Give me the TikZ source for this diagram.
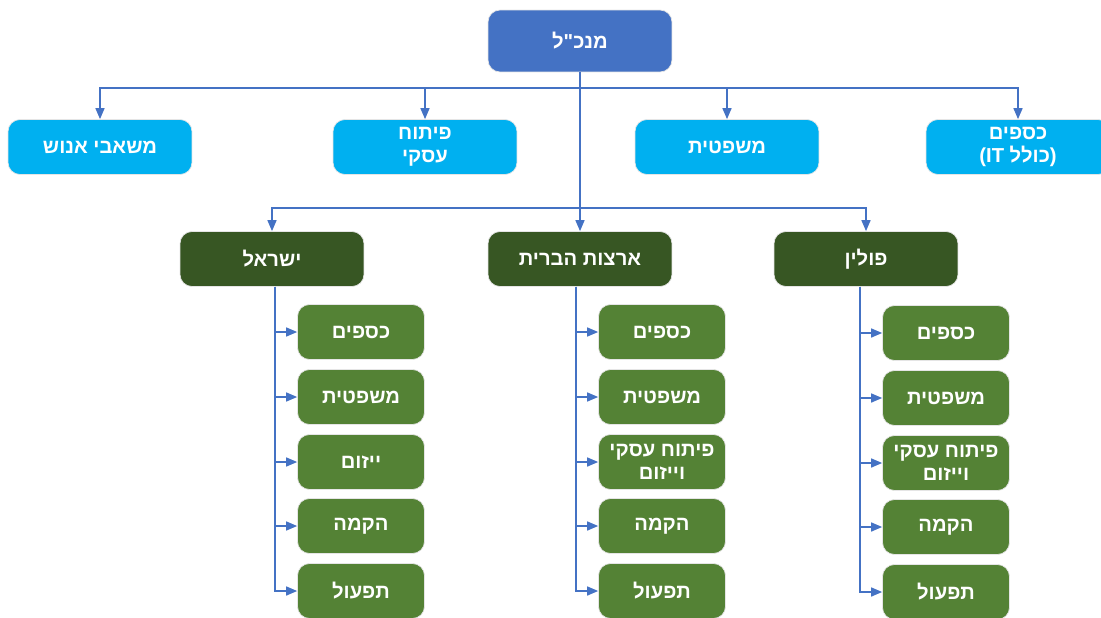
\documentclass[tikz,border=0pt]{standalone}
\usepackage{fontspec}
\usepackage{tikz}
\usetikzlibrary{arrows.meta}
\TeXXeTstate=1
\newfontfamily\hebfont[Script=Hebrew]{Liberation Sans}
\newcommand{\hebr}[1]{\beginR #1\endR}
\definecolor{ceoblue}{HTML}{4472C4}
\definecolor{deptblue}{HTML}{00B0F0}
\definecolor{sitegreen}{HTML}{375623}
\definecolor{unitgreen}{HTML}{548235}
\definecolor{linkblue}{HTML}{4472C4}
\tikzset{
	box/.style={shape=rectangle,rounded corners=0.24cm,draw=white!80!gray,line width=0.4pt,
		text=white,align=center,inner sep=0pt,
		font=\hebfont\bfseries\fontsize{11.5}{13}\selectfont},
	ceobox/.style={box,fill=ceoblue,minimum width=3.68cm,minimum height=1.24cm},
	deptbox/.style={box,fill=deptblue,minimum width=3.68cm,minimum height=1.1cm},
	sitebox/.style={box,fill=sitegreen,minimum width=3.68cm,minimum height=1.1cm},
	unitbox/.style={box,fill=unitgreen,minimum width=2.54cm,minimum height=1.1cm},
	link/.style={draw=linkblue,line width=0.85pt,-{Triangle[length=0.22cm,width=0.18cm]}}
}

\begin{document}
\begin{tikzpicture}[x=0.02cm,y=-0.02cm]
	
	\useasboundingbox (0,0) rectangle (1101,618);
	
	\node[ceobox] (ceo) at (580, 41)  {\hebr{מנכ"ל}};
	
	\node[deptbox] (hr)    at (100, 147)  {\hebr{משאבי אנוש}};
	\node[deptbox] (biz)   at (425, 147)  {\hebr{פיתוח}\\\hebr{עסקי}};
	\node[deptbox] (legal) at (727, 147)  {\hebr{משפטית}};
	\node[deptbox] (fin)   at (1018, 147) {\hebr{כספים}\\\hebr{(כולל \beginL IT\endL)}};
	
	\node[sitebox] (il) at (272, 259) {\hebr{ישראל}};
	\node[sitebox] (us) at (580, 259) {\hebr{ארצות הברית}};
	\node[sitebox] (pl) at (866, 259) {\hebr{פולין}};
	
	\node[unitbox] (il1) at (361, 332) {\hebr{כספים}};
	\node[unitbox] (il2) at (361, 397) {\hebr{משפטית}};
	\node[unitbox] (il3) at (361, 462) {\hebr{ייזום}};
	\node[unitbox] (il4) at (361, 526) {\hebr{הקמה}};
	\node[unitbox] (il5) at (361, 591) {\hebr{תפעול}};
	
	\node[unitbox] (us1) at (662, 332) {\hebr{כספים}};
	\node[unitbox] (us2) at (662, 397) {\hebr{משפטית}};
	\node[unitbox] (us3) at (662, 462) {\hebr{פיתוח עסקי}\\\hebr{וייזום}};
	\node[unitbox] (us4) at (662, 526) {\hebr{הקמה}};
	\node[unitbox] (us5) at (662, 591) {\hebr{תפעול}};
	
	\node[unitbox] (pl1) at (946, 333) {\hebr{כספים}};
	\node[unitbox] (pl2) at (946, 398) {\hebr{משפטית}};
	\node[unitbox] (pl3) at (946, 463) {\hebr{פיתוח עסקי}\\\hebr{וייזום}};
	\node[unitbox] (pl4) at (946, 527) {\hebr{הקמה}};
	\node[unitbox] (pl5) at (946, 592) {\hebr{תפעול}};
	
	\coordinate (bus1) at (580, 88);
	\coordinate (bus2) at (580, 208);
	
	% upper level
	\path[link] (bus1) -| (hr.north);
	\path[link] (bus1) -| (biz.north);
	\path[link] (bus1) -| (legal.north);
	\path[link] (bus1) -| (fin.north);
	
	% sites
	\path[link] (ceo.south) -- (us.north);
	\path[link] (bus2) -| (il.north);
	\path[link] (bus2) -| (pl.north);
	
	% units
	\foreach \n in {1,...,5} {
		\path[link] ([xshift=0.06cm]il.south) |- (il\n.west);
		\path[link] ([xshift=-0.08cm]us.south) |- (us\n.west);
		\path[link] ([xshift=-0.12cm]pl.south) |- (pl\n.west);
	}
	
\end{tikzpicture}
\end{document}
